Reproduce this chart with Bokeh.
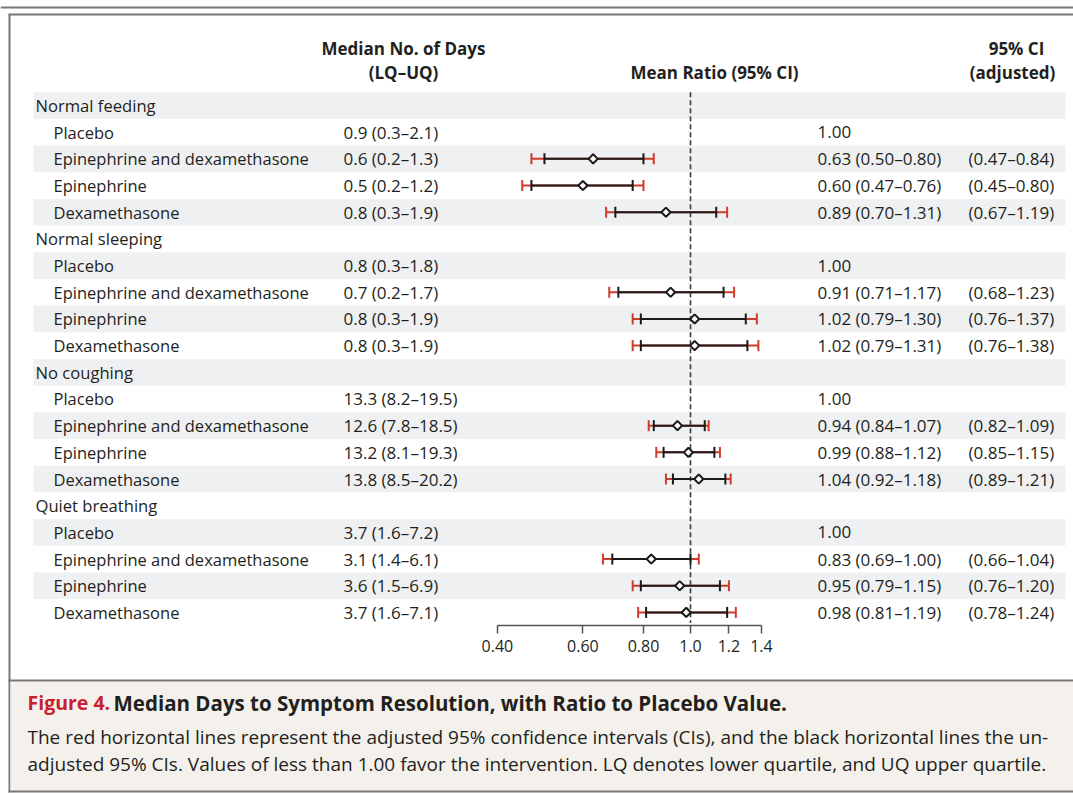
import numpy as np
from bokeh.plotting import figure
from bokeh.models import Range1d, LinearScale, LogAxis, FixedTicker, CustomJSTickFormatter, Grid
from bokeh.core.properties import value
from bokeh.embed import file_html
from bokeh.resources import INLINE

# ---------------- data ----------------
groups = ["Normal feeding", "Normal sleeping", "No coughing", "Quiet breathing"]
treatments = ["Placebo", "Epinephrine and dexamethasone", "Epinephrine", "Dexamethasone"]

median_days = [
    ["0.9 (0.3\u20132.1)", "0.6 (0.2\u20131.3)", "0.5 (0.2\u20131.2)", "0.8 (0.3\u20131.9)"],
    ["0.8 (0.3\u20131.8)", "0.7 (0.2\u20131.7)", "0.8 (0.3\u20131.9)", "0.8 (0.3\u20131.9)"],
    ["13.3 (8.2\u201319.5)", "12.6 (7.8\u201318.5)", "13.2 (8.1\u201319.3)", "13.8 (8.5\u201320.2)"],
    ["3.7 (1.6\u20137.2)", "3.1 (1.4\u20136.1)", "3.6 (1.5\u20136.9)", "3.7 (1.6\u20137.1)"],
]
ratio_text = [
    ["1.00", "0.63 (0.50\u20130.80)", "0.60 (0.47\u20130.76)", "0.89 (0.70\u20131.31)"],
    ["1.00", "0.91 (0.71\u20131.17)", "1.02 (0.79\u20131.30)", "1.02 (0.79\u20131.31)"],
    ["1.00", "0.94 (0.84\u20131.07)", "0.99 (0.88\u20131.12)", "1.04 (0.92\u20131.18)"],
    ["1.00", "0.83 (0.69\u20131.00)", "0.95 (0.79\u20131.15)", "0.98 (0.81\u20131.19)"],
]
adjusted_text = [
    ["", "(0.47\u20130.84)", "(0.45\u20130.80)", "(0.67\u20131.19)"],
    ["", "(0.68\u20131.23)", "(0.76\u20131.37)", "(0.76\u20131.38)"],
    ["", "(0.82\u20131.09)", "(0.85\u20131.15)", "(0.89\u20131.21)"],
    ["", "(0.66\u20131.04)", "(0.76\u20131.20)", "(0.78\u20131.24)"],
]
nan = float("nan")
mean_ratio = [
    [nan, 0.63, 0.60, 0.89],
    [nan, 0.91, 1.02, 1.02],
    [nan, 0.94, 0.99, 1.04],
    [nan, 0.83, 0.95, 0.98],
]
ci_low = [
    [nan, 0.50, 0.47, 0.70],
    [nan, 0.71, 0.79, 0.79],
    [nan, 0.84, 0.88, 0.92],
    [nan, 0.69, 0.79, 0.81],
]
ci_high = [
    [nan, 0.80, 0.76, 1.13],
    [nan, 1.17, 1.30, 1.31],
    [nan, 1.07, 1.12, 1.18],
    [nan, 1.00, 1.15, 1.19],
]
adj_low = [
    [nan, 0.47, 0.45, 0.67],
    [nan, 0.68, 0.76, 0.76],
    [nan, 0.82, 0.85, 0.89],
    [nan, 0.66, 0.76, 0.78],
]
adj_high = [
    [nan, 0.84, 0.80, 1.19],
    [nan, 1.23, 1.37, 1.38],
    [nan, 1.09, 1.15, 1.21],
    [nan, 1.04, 1.20, 1.24],
]
tick_values = [0.4, 0.6, 0.8, 1.0, 1.2, 1.4]
tick_labels = ["0.40", "0.60", "0.80", "1.0", "1.2", "1.4"]

caption_label = "Figure 4."
caption_title = "Median Days to Symptom Resolution, with Ratio to Placebo Value."
caption_lines = [
    "The red horizontal lines represent the adjusted 95% confidence intervals (CIs), and the black horizontal lines the un-",
    "adjusted 95% CIs. Values of less than 1.00 favor the intervention. LQ denotes lower quartile, and UQ upper quartile.",
]

# ---------------- layout ----------------
W, H = 1073, 794
ROW0, ROWH = 105.0, 26.68         # canvas y of first row centre, row pitch (px)
X_ONE, PX_LN = 690.0, 210.7       # canvas x of ratio 1.0, px per ln unit


def ry(py):
    return (py - ROW0) / ROWH


FONT = value("Open Sans")
TXT = "#231f20"
RED = "#cc3d2c"
BAND = "#eff0f2"
GRAY = "#777777"

p = figure(width=W, height=H, x_axis_type="log",
           x_range=Range1d(np.exp(-X_ONE / PX_LN), np.exp((W - X_ONE) / PX_LN)),
           y_range=Range1d(ry(H), ry(0)),
           x_axis_location=None, y_axis_location=None,
           toolbar_location=None, output_backend="svg", min_border=0)
p.outline_line_color = None
p.background_fill_color = "white"
p.border_fill_color = "white"
p.center = [c for c in p.center if not isinstance(c, Grid)]
p.extra_x_ranges = {"px": Range1d(0, W)}
p.extra_x_scales = {"px": LinearScale()}

# rows
row_kind, row_label, row_mid, row_rat, row_adj = [], [], [], [], []
f_y, f_m, f_lo, f_hi, f_alo, f_ahi = [], [], [], [], [], []
r = 0
for gi, g in enumerate(groups):
    row_kind.append("g"); row_label.append(g); row_mid.append(""); row_rat.append(""); row_adj.append("")
    r += 1
    for ti, t in enumerate(treatments):
        row_kind.append("t"); row_label.append(t)
        row_mid.append(median_days[gi][ti]); row_rat.append(ratio_text[gi][ti]); row_adj.append(adjusted_text[gi][ti])
        if not np.isnan(mean_ratio[gi][ti]):
            f_y.append(r); f_m.append(mean_ratio[gi][ti])
            f_lo.append(ci_low[gi][ti]); f_hi.append(ci_high[gi][ti])
            f_alo.append(adj_low[gi][ti]); f_ahi.append(adj_high[gi][ti])
        r += 1
n_rows = len(row_kind)
rows = list(range(n_rows))

# alternating bands
even = [i for i in rows if i % 2 == 0]
p.quad(left=33, right=1065, top=[i - 0.5 for i in even], bottom=[i + 0.5 for i in even],
       x_range_name="px", fill_color=BAND, line_color=None)

# frame lines
p.segment(x0=[0, 8], x1=[W, W], y0=[ry(7), ry(14)], y1=[ry(7), ry(14)],
          x_range_name="px", line_color=GRAY, line_width=2)
p.segment(x0=[9], x1=[9], y0=[ry(14)], y1=[ry(792)], x_range_name="px",
          line_color=GRAY, line_width=2)

# caption box
p.quad(left=10, right=W, top=ry(681), bottom=ry(791), x_range_name="px",
       fill_color="#f4f1ec", line_color=None)
p.segment(x0=[8, 8], x1=[W, W], y0=[ry(680), ry(791)], y1=[ry(680), ry(791)],
          x_range_name="px", line_color=GRAY, line_width=2)

# headers
p.text(x=[403, 714, 1016], y=[ry(48), ry(72), ry(48)],
       text=["Median No. of Days", "Mean Ratio (95% CI)", "95% CI"],
       x_range_name="px", text_font=FONT, text_font_style="bold", text_font_size="17px",
       text_color=TXT, text_align="center", text_baseline="middle")
p.text(x=[403, 1012], y=[ry(72), ry(72)], text=["(LQ\u2013UQ)", "(adjusted)"],
       x_range_name="px", text_font=FONT, text_font_style="bold", text_font_size="17px",
       text_color=TXT, text_align="center", text_baseline="middle")

# row labels
gy = [i for i in rows if row_kind[i] == "g"]
ty = [i for i in rows if row_kind[i] == "t"]
p.text(x=35, y=gy, text=[row_label[i] for i in gy], x_range_name="px", text_font=FONT,
       text_font_size="16.6px", text_color=TXT, text_align="left", text_baseline="middle")
p.text(x=53, y=ty, text=[row_label[i] for i in ty], x_range_name="px", text_font=FONT,
       text_font_size="16.5px", text_color=TXT, text_align="left", text_baseline="middle")
p.text(x=343, y=ty, text=[row_mid[i] for i in ty], x_range_name="px", text_font=FONT,
       text_font_size="17px", text_color=TXT, text_align="left", text_baseline="middle")
p.text(x=817, y=ty, text=[row_rat[i] for i in ty], x_range_name="px", text_font=FONT,
       text_font_size="17px", text_color=TXT, text_align="left", text_baseline="middle")
p.text(x=968, y=ty, text=[row_adj[i] for i in ty], x_range_name="px", text_font=FONT,
       text_font_size="17px", text_color=TXT, text_align="left", text_baseline="middle")

# reference line at 1.0
p.segment(x0=[1.0], x1=[1.0], y0=[-0.5], y1=[n_rows - 0.6], line_color="#3a3a3a",
          line_width=1.6, line_dash="5 3")

# adjusted CI (red)
p.segment(x0=f_alo, x1=f_ahi, y0=f_y, y1=f_y, line_color=RED, line_width=2)
p.scatter(x=f_alo + f_ahi, y=f_y + f_y, marker="dash", angle=np.pi / 2, size=11,
          line_color=RED, line_width=2)
# unadjusted CI (black)
p.segment(x0=f_lo, x1=f_hi, y0=f_y, y1=f_y, line_color="#1a1a1a", line_width=2)
p.scatter(x=f_lo + f_hi, y=f_y + f_y, marker="dash", angle=np.pi / 2, size=11,
          line_color="#1a1a1a", line_width=2)
# mean ratio
p.scatter(x=f_m, y=f_y, marker="square", angle=np.pi / 4, size=6.5,
          fill_color="white", line_color="#1a1a1a", line_width=2)

# axis
axis = LogAxis(ticker=FixedTicker(ticks=tick_values, minor_ticks=[]),
               bounds=(min(tick_values), max(tick_values)),
               fixed_location=n_rows - 0.5,
               formatter=CustomJSTickFormatter(args=dict(vals=tick_values, labs=tick_labels), code="""
                   for (let i = 0; i < vals.length; i++) {
                       if (Math.abs(vals[i] - tick) < 1e-6) return labs[i];
                   }
                   return '';
               """))
axis.axis_line_color = "#555555"
axis.axis_line_width = 1.5
axis.major_tick_line_color = "#555555"
axis.major_tick_line_width = 1.5
axis.major_tick_in = 0
axis.major_tick_out = 8
axis.minor_tick_line_color = None
axis.major_label_text_font = "Open Sans"
axis.major_label_text_font_size = "16px"
axis.major_label_text_color = TXT
axis.major_label_standoff = 6
p.add_layout(axis, "below")

# caption
p.text(x=[27], y=[ry(702)], text=[caption_label], x_range_name="px", text_font=FONT,
       text_font_style="bold", text_font_size="19.5px", text_color="#c8202f",
       text_align="left", text_baseline="middle")
p.text(x=[113], y=[ry(702)], text=[caption_title], x_range_name="px", text_font=FONT,
       text_font_style="bold", text_font_size="20.5px", text_color=TXT,
       text_align="left", text_baseline="middle")
p.text(x=[27, 27], y=[ry(736), ry(763)], text=caption_lines, x_range_name="px", text_font=FONT,
       text_font_size="19px", text_color=TXT, text_align="left", text_baseline="middle")

open("out.html", "w").write(file_html(p, INLINE))
